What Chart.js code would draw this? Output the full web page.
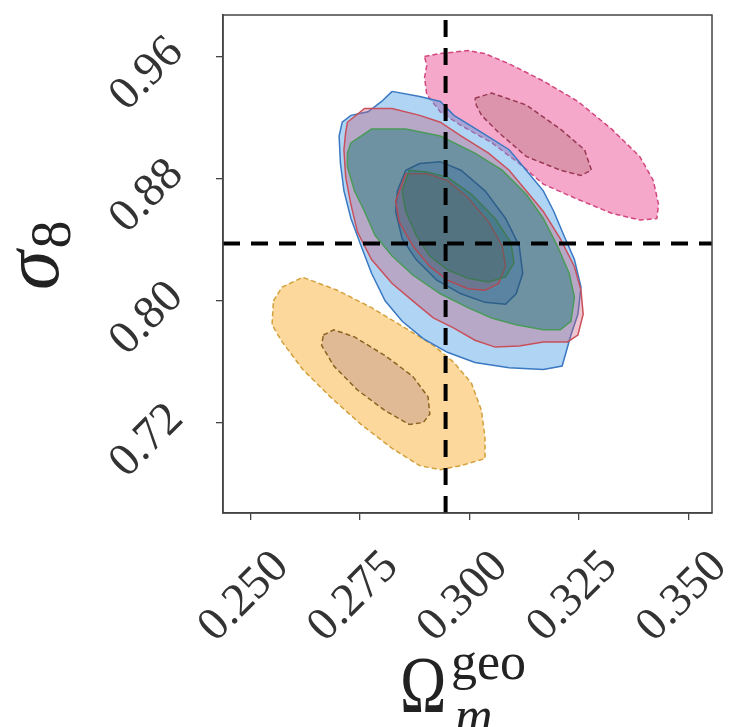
<!DOCTYPE html>
<html>
<head>
<meta charset="utf-8">
<script src="https://cdn.jsdelivr.net/npm/chart.js@4.4.1/dist/chart.umd.min.js"></script>
<style>
  html, body { margin: 0; padding: 0; background: #fff; }
  #chart { display: block; }
</style>
</head>
<body>
<canvas id="chart" width="739" height="727"></canvas>
<script>
// === Axis ranges and ticks ===
const xRange = [0.2438, 0.3554];
const yRange = [0.661, 0.987];
const xTicks = [0.250, 0.275, 0.300, 0.325, 0.350];
const yTicks = [0.72, 0.80, 0.88, 0.96];

// === Fiducial cosmology (dashed cross) ===
const omegaFid = 0.2946;
const sigmaFid = 0.8375;

// === Contour outlines, [Omega_m, sigma_8] ===
const pinkOuter = [[0.2898,0.9598],[0.2934,0.9618],[0.2997,0.9637],[0.3035,0.9618],[0.3090,0.9552],[0.3169,0.9438],[0.3248,0.9304],[0.3325,0.9123],[0.3389,0.8944],[0.3420,0.8787],[0.3432,0.8630],[0.3428,0.8538],[0.3389,0.8528],[0.3325,0.8572],[0.3248,0.8663],[0.3169,0.8763],[0.3114,0.8898],[0.3051,0.9035],[0.2981,0.9147],[0.2934,0.9236],[0.2903,0.9349],[0.2898,0.9461],[0.2903,0.9539]];
const pinkInner = [[0.3013,0.9325],[0.3051,0.9359],[0.3130,0.9281],[0.3208,0.9123],[0.3263,0.8988],[0.3279,0.8854],[0.3255,0.8820],[0.3208,0.8854],[0.3130,0.8944],[0.3067,0.9101],[0.3028,0.9213],[0.3016,0.9281]];

const yellowOuter = [[0.2553,0.7999],[0.2573,0.8089],[0.2620,0.8153],[0.2699,0.8068],[0.2777,0.7954],[0.2855,0.7819],[0.2918,0.7708],[0.2965,0.7595],[0.3005,0.7460],[0.3028,0.7280],[0.3036,0.7100],[0.3036,0.6966],[0.2981,0.6920],[0.2934,0.6894],[0.2887,0.6920],[0.2824,0.7033],[0.2753,0.7190],[0.2683,0.7370],[0.2620,0.7550],[0.2573,0.7730],[0.2550,0.7842]];
const yellowInner = [[0.2667,0.7775],[0.2691,0.7809],[0.2738,0.7763],[0.2808,0.7640],[0.2871,0.7505],[0.2906,0.7370],[0.2910,0.7258],[0.2895,0.7202],[0.2863,0.7190],[0.2808,0.7280],[0.2745,0.7415],[0.2691,0.7572],[0.2663,0.7708]];

const blueOuter = [[0.2824,0.9370],[0.2887,0.9336],[0.2934,0.9304],[0.2965,0.9213],[0.3028,0.9101],[0.3091,0.8988],[0.3130,0.8854],[0.3169,0.8719],[0.3193,0.8584],[0.3216,0.8427],[0.3240,0.8269],[0.3255,0.8089],[0.3248,0.7911],[0.3232,0.7775],[0.3212,0.7572],[0.3169,0.7550],[0.3091,0.7561],[0.3013,0.7595],[0.2950,0.7662],[0.2895,0.7752],[0.2847,0.7865],[0.2808,0.7999],[0.2777,0.8179],[0.2753,0.8359],[0.2730,0.8538],[0.2714,0.8719],[0.2706,0.8898],[0.2703,0.9078],[0.2710,0.9168],[0.2730,0.9213],[0.2769,0.9236],[0.2800,0.9304]];
const blueInner = [[0.2887,0.8898],[0.2934,0.8910],[0.2981,0.8854],[0.3036,0.8719],[0.3083,0.8538],[0.3114,0.8359],[0.3122,0.8179],[0.3107,0.8045],[0.3083,0.7977],[0.3036,0.7989],[0.2981,0.8045],[0.2926,0.8134],[0.2879,0.8269],[0.2847,0.8404],[0.2832,0.8584],[0.2836,0.8719],[0.2855,0.8854]];

const redOuter = [[0.2722,0.9168],[0.2761,0.9258],[0.2824,0.9258],[0.2887,0.9213],[0.2934,0.9168],[0.2981,0.9078],[0.3044,0.8966],[0.3091,0.8854],[0.3130,0.8719],[0.3169,0.8584],[0.3208,0.8404],[0.3240,0.8224],[0.3255,0.8068],[0.3260,0.7911],[0.3248,0.7775],[0.3224,0.7730],[0.3169,0.7730],[0.3114,0.7703],[0.3059,0.7696],[0.3013,0.7741],[0.2965,0.7820],[0.2918,0.7887],[0.2871,0.7999],[0.2824,0.8112],[0.2777,0.8269],[0.2745,0.8449],[0.2730,0.8629],[0.2718,0.8809],[0.2714,0.8988],[0.2718,0.9101]];
const redInner = [[0.2855,0.8831],[0.2903,0.8831],[0.2950,0.8787],[0.2997,0.8674],[0.3044,0.8516],[0.3075,0.8359],[0.3083,0.8224],[0.3067,0.8112],[0.3036,0.8068],[0.2997,0.8078],[0.2950,0.8134],[0.2910,0.8224],[0.2871,0.8359],[0.2840,0.8516],[0.2832,0.8652]];

const greenOuter = [[0.2730,0.9033],[0.2777,0.9123],[0.2855,0.9123],[0.2934,0.9078],[0.3013,0.8966],[0.3075,0.8854],[0.3130,0.8696],[0.3169,0.8538],[0.3201,0.8359],[0.3228,0.8179],[0.3240,0.8022],[0.3232,0.7865],[0.3208,0.7809],[0.3169,0.7809],[0.3107,0.7842],[0.3051,0.7887],[0.2997,0.7954],[0.2934,0.8045],[0.2871,0.8168],[0.2824,0.8292],[0.2785,0.8427],[0.2761,0.8584],[0.2738,0.8719],[0.2722,0.8876],[0.2722,0.8966]];
const greenInner = [[0.2863,0.8854],[0.2903,0.8843],[0.2950,0.8809],[0.3005,0.8696],[0.3059,0.8538],[0.3095,0.8381],[0.3102,0.8247],[0.3083,0.8156],[0.3044,0.8123],[0.2997,0.8146],[0.2950,0.8202],[0.2910,0.8292],[0.2879,0.8427],[0.2855,0.8584],[0.2847,0.8719]];

// build a closed, filled outline
function contour(points, fill, edge, dashed) {
  const data = points.map(p => ({ x: p[0], y: p[1] }));
  data.push(data[0]);
  return {
    data: data,
    showLine: true,
    fill: "shape",
    backgroundColor: fill,
    borderColor: edge,
    borderWidth: 1.5,
    borderDash: dashed ? [5, 3] : [],
    pointRadius: 0,
    tension: 0
  };
}

function refLine(data) {
  return {
    data: data,
    showLine: true,
    fill: false,
    borderColor: "#000",
    borderWidth: 4,
    borderDash: [17, 11],
    pointRadius: 0
  };
}

// bottom to top
const layers = [
  contour(pinkOuter, "rgba(238,110,165,0.6)", "#d2467e", true),
  contour(pinkInner, "rgba(180,120,130,0.4)", "#9a3a55", true),
  contour(yellowOuter, "rgba(250,190,90,0.6)", "#d2a03c", true),
  contour(yellowInner, "rgba(190,150,140,0.45)", "#8c6422", true),
  contour(blueOuter, "rgba(80,160,230,0.45)", "#3a78c2", false),
  contour(redOuter, "rgba(200,90,120,0.35)", "#c9505a", false),
  contour(greenOuter, "rgba(40,125,125,0.5)", "#4a9a5a", false),
  contour(blueInner, "rgba(40,100,160,0.3)", "#2d5f8a", false),
  contour(redInner, "rgba(160,80,100,0.25)", "#b04a55", false),
  contour(greenInner, "rgba(40,110,100,0.35)", "#3f7a55", false),
  refLine([{ x: omegaFid, y: yRange[0] }, { x: omegaFid, y: yRange[1] }]),
  refLine([{ x: xRange[0], y: sigmaFid }, { x: xRange[1], y: sigmaFid }])
];
layers.forEach((ds, i) => { ds.order = layers.length - i; });

// frame, rotated tick labels and axis titles
const decorations = {
  id: "decorations",
  afterDraw(chart) {
    const { ctx, chartArea: a, scales: { x, y } } = chart;
    ctx.save();
    ctx.strokeStyle = "#444";
    ctx.lineWidth = 1.5;
    ctx.strokeRect(a.left, a.top, a.right - a.left, a.bottom - a.top);

    ctx.fillStyle = "#333";
    ctx.font = '47px "Liberation Serif"';
    ctx.textAlign = "center";
    ctx.textBaseline = "middle";
    xTicks.forEach(v => {
      ctx.save();
      ctx.translate(x.getPixelForValue(v) - 6, 597);
      ctx.rotate(-Math.PI / 4);
      ctx.fillText(v.toFixed(3), 0, 0);
      ctx.restore();
    });
    yTicks.forEach(v => {
      ctx.save();
      ctx.translate(147, y.getPixelForValue(v) + 18);
      ctx.rotate(-Math.PI / 4);
      ctx.fillText(v.toFixed(2), 0, 0);
      ctx.restore();
    });

    // x title: Omega_m^geo
    ctx.fillStyle = "#222";
    ctx.textAlign = "left";
    ctx.textBaseline = "alphabetic";
    ctx.save();
    ctx.translate(400, 712);
    ctx.scale(0.78, 1);
    ctx.font = '80px "Liberation Serif"';
    ctx.fillText("Ω", 0, 0);
    ctx.restore();
    ctx.font = '52px "Liberation Serif"';
    ctx.fillText("geo", 451, 679);
    ctx.font = 'italic 52px "Liberation Serif"';
    ctx.fillText("m", 455, 733);

    // y title: sigma_8
    ctx.translate(58, 290);
    ctx.rotate(-Math.PI / 2);
    ctx.font = 'italic 80px "Liberation Serif"';
    ctx.fillText("σ", 0, 0);
    const w = ctx.measureText("σ").width;
    ctx.font = '56px "Liberation Serif"';
    ctx.fillText("8", w + 2, 12);
    ctx.restore();
  }
};

const axisGrid = {
  display: true,
  drawOnChartArea: false,
  drawTicks: true,
  tickLength: 7,
  color: "#444",
  lineWidth: 1.3
};

new Chart(document.getElementById("chart"), {
  type: "scatter",
  data: { datasets: layers },
  options: {
    responsive: false,
    animation: false,
    devicePixelRatio: 1,
    layout: { padding: { top: 15, right: 27, left: 0, bottom: 0 } },
    plugins: { legend: { display: false }, tooltip: { enabled: false } },
    scales: {
      x: {
        type: "linear",
        min: xRange[0],
        max: xRange[1],
        grid: axisGrid,
        border: { display: true, color: "#444", width: 1.5 },
        ticks: { display: false },
        afterBuildTicks: s => { s.ticks = xTicks.map(v => ({ value: v })); },
        afterFit: s => { s.height = 214; }
      },
      y: {
        type: "linear",
        min: yRange[0],
        max: yRange[1],
        grid: axisGrid,
        border: { display: true, color: "#444", width: 1.5 },
        ticks: { display: false },
        afterBuildTicks: s => { s.ticks = yTicks.map(v => ({ value: v })); },
        afterFit: s => { s.width = 223; }
      }
    }
  },
  plugins: [decorations]
});
</script>
</body>
</html>
